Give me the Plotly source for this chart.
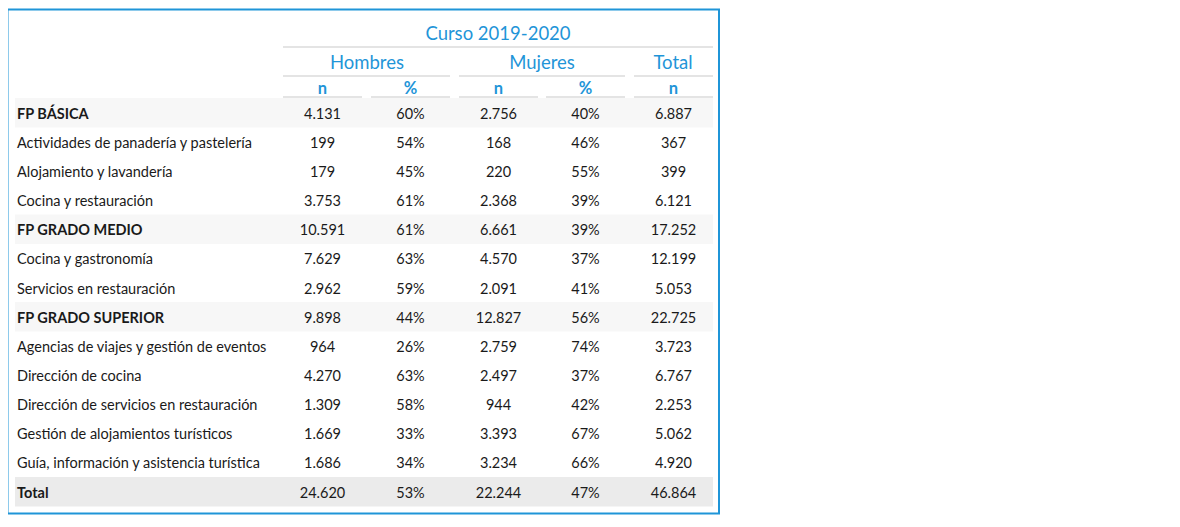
import plotly.graph_objects as go

# datos de la tabla (curso 2019-2020)
labels = ['FP BÁSICA', 'Actividades de panadería y pastelería', 'Alojamiento y lavandería',
          'Cocina y restauración', 'FP GRADO MEDIO', 'Cocina y gastronomía',
          'Servicios en restauración', 'FP GRADO SUPERIOR', 'Agencias de viajes y gestión de eventos',
          'Dirección de cocina', 'Dirección de servicios en restauración',
          'Gestión de alojamientos turísticos', 'Guía, información y asistencia turística', 'Total']
is_group = [True, False, False, False, True, False, False, True, False, False, False, False, False, True]
hombres_n = [4131, 199, 179, 3753, 10591, 7629, 2962, 9898, 964, 4270, 1309, 1669, 1686, 24620]
hombres_pct = [60, 54, 45, 61, 61, 63, 59, 44, 26, 63, 58, 33, 34, 53]
mujeres_n = [2756, 168, 220, 2368, 6661, 4570, 2091, 12827, 2759, 2497, 944, 3393, 3234, 22244]
mujeres_pct = [40, 46, 55, 39, 39, 37, 41, 56, 74, 37, 42, 67, 66, 47]
total_n = [6887, 367, 399, 6121, 17252, 12199, 5053, 22725, 3723, 6767, 2253, 5062, 4920, 46864]

title = 'Curso 2019-2020'
groups = ['Hombres', 'Mujeres', 'Total']
subheads = ['n', '%', 'n', '%', 'n']

BLUE = '#1f95d8'
LINE = '#e4e4e4'
TXT = '#1a1a1a'
FONT = 'Lato'


def fmt_n(v):
    return f'{v:,}'.replace(',', '.')


row_y0 = 113
row_h = 29.15
col_left = [283, 371, 459, 546, 634]
col_w = 79
row_y = [row_y0 + i * row_h for i in range(len(labels))]
col_x = [c + col_w / 2 for c in col_left]
dy = 2  # el texto de plotly queda un poco alto
text_y = [y + dy for y in row_y]

fig = go.Figure()
shapes = []

# bandas grises
for i, g in enumerate(is_group):
    if g:
        color = '#ebebeb' if labels[i] == 'Total' else '#f7f7f7'
        shapes.append(dict(type='rect', x0=15, x1=713, y0=row_y[i] - 15, y1=row_y[i] + 14.5,
                           fillcolor=color, line_width=0, layer='below'))

# lineas de cabecera
shapes.append(dict(type='line', x0=283, x1=713, y0=47, y1=47, line=dict(color=LINE, width=2)))
for x0, x1 in [(283, 450), (459, 625), (634, 713)]:
    shapes.append(dict(type='line', x0=x0, x1=x1, y0=76, y1=76, line=dict(color=LINE, width=2)))
for c in col_left:
    shapes.append(dict(type='line', x0=c, x1=c + col_w, y0=97, y1=97, line=dict(color=LINE, width=2)))

# borde azul
shapes.append(dict(type='rect', x0=7.5, x1=719, y0=9.5, y1=513.5, line=dict(color=BLUE, width=2)))

# etiquetas
fig.add_trace(go.Scatter(
    x=[17] * len(labels), y=text_y, mode='text',
    text=[f'<b>{l}</b>' if g else l for l, g in zip(labels, is_group)],
    textposition='middle right', textfont=dict(family=FONT, size=14.5, color=TXT),
    hoverinfo='skip'))

cols = [[fmt_n(v) for v in hombres_n], [f'{v}%' for v in hombres_pct],
        [fmt_n(v) for v in mujeres_n], [f'{v}%' for v in mujeres_pct],
        [fmt_n(v) for v in total_n]]
for x, vals in zip(col_x, cols):
    fig.add_trace(go.Scatter(
        x=[x] * len(vals), y=text_y, mode='text', text=vals,
        textposition='middle center', textfont=dict(family=FONT, size=14.5, color=TXT),
        hoverinfo='skip'))

# cabeceras
fig.add_trace(go.Scatter(
    x=[498, 367, 542, 673], y=[35, 64, 64, 64], mode='text',
    text=[title] + groups, textposition='middle center',
    textfont=dict(family=FONT, size=18.5, color=BLUE), hoverinfo='skip'))
fig.add_trace(go.Scatter(
    x=col_x, y=[89.5] * 5, mode='text', text=[f'<b>{s}</b>' for s in subheads],
    textposition='middle center', textfont=dict(family=FONT, size=16.5, color=BLUE),
    hoverinfo='skip'))

# la pagina deja 8px de margen, se compensa en los rangos
fig.update_layout(
    width=1180, height=527, margin=dict(l=0, r=0, t=0, b=0),
    plot_bgcolor='white', paper_bgcolor='white', showlegend=False,
    xaxis=dict(range=[8, 1188], visible=False, fixedrange=True),
    yaxis=dict(range=[535, 8], visible=False, fixedrange=True),
    shapes=shapes)

fig.write_html("out.html")
